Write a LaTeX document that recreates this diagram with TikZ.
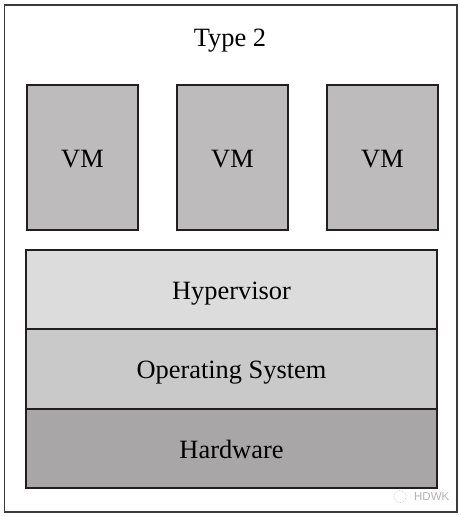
\documentclass[tikz,border=0pt]{standalone}
\usepackage{fontspec}
\setmainfont{Liberation Serif}
\newfontfamily\marksans{Liberation Sans}
\definecolor{edge}{HTML}{231F20}
\definecolor{frameedge}{HTML}{3A3A3A}
\definecolor{vmfill}{HTML}{BDBBBC}
\definecolor{hypfill}{HTML}{DCDCDC}
\definecolor{osfill}{HTML}{C9C9C9}
\definecolor{hwfill}{HTML}{A8A6A7}
\begin{document}
\begin{tikzpicture}[x=1bp,y=-1bp,
  label font/.style={font=\fontsize{26.5}{30}\selectfont, text height=19.5bp, text depth=0pt, inner sep=0pt},
  block/.style={draw=edge, line width=2bp, label font},
  vmbox/.style={block, fill=vmfill, minimum width=111bp, minimum height=145bp},
  layer/.style={block, minimum width=410bp, minimum height=79.5bp}]
  \useasboundingbox (0,0) rectangle (461,516);
  \fill[white] (0,0) rectangle (461,516);
  % outer frame
  \draw[frameedge, line width=1.6bp] (4.5,5) rectangle (457,512);
  \node[label font] (title) at (230,36.5) {Type 2};
  % virtual machines
  \node[vmbox] (vm1) at (82.5,157.5) {VM};
  \node[vmbox] (vm2) at (232.5,157.5) {VM};
  \node[vmbox] (vm3) at (382.5,157.5) {VM};
  % software / hardware stack, shared borders
  \node[layer, fill=hypfill] (hyp) at (231.5,289.5) {Hypervisor};
  \node[layer, fill=osfill] (os) at (231.5,369) {Operating System};
  \node[layer, fill=hwfill] (hw) at (231.5,448.5) {Hardware};
  % faint mark in the corner
  \draw[gray!40, densely dotted, line width=0.7bp] (400,496.5) circle (6);
  \node[gray!60, font=\marksans\fontsize{11.5}{12}\selectfont, anchor=west, inner sep=0pt] (mark) at (414,497) {HDWK};
\end{tikzpicture}
\end{document}
